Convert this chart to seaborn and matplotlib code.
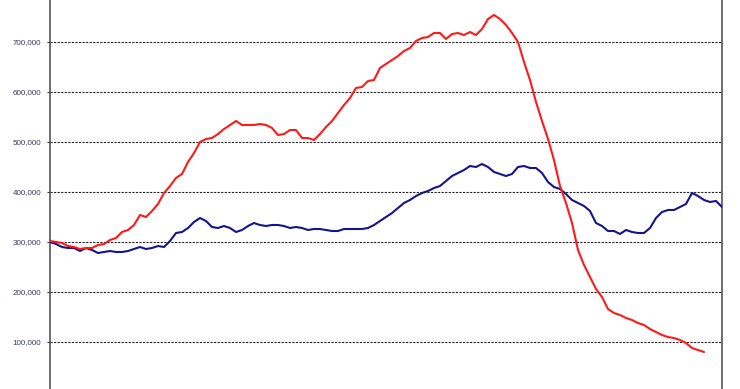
import matplotlib
matplotlib.use("Agg")
import matplotlib.pyplot as plt
import matplotlib.ticker as mticker
import numpy as np
import pandas as pd
import seaborn as sns

# Values in thousands, one per period
red_values = [302, 300, 298, 292, 290, 286, 288, 288, 294, 296,
              304, 308, 320, 324, 334, 354, 350, 362, 376, 398,
              412, 428, 436, 460, 478, 500, 506, 508, 516, 526,
              534, 542, 534, 534, 534, 536, 534, 528, 514, 516,
              524, 524, 508, 508, 504, 516, 530, 542, 558, 574,
              588, 608, 610, 622, 624, 648, 656, 664, 672, 682,
              688, 702, 708, 710, 718, 718, 706, 716, 718, 714,
              720, 714, 726, 746, 754, 746, 734, 718, 700, 660,
              624, 580, 542, 506, 464, 412, 378, 338, 284, 254,
              230, 206, 190, 166, 158, 154, 148, 144, 138, 134,
              126, 120, 114, 110, 108, 104, 98, 88, 84, 80]

blue_values = [300, 296, 290, 288, 288, 282, 288, 284, 278, 280,
               282, 280, 280, 282, 286, 290, 286, 288, 292, 290,
               302, 318, 320, 328, 340, 348, 342, 330, 328, 332,
               328, 320, 324, 332, 338, 334, 332, 334, 334, 332,
               328, 330, 328, 324, 326, 326, 324, 322, 322, 326,
               326, 326, 326, 328, 334, 342, 350, 358, 368, 378,
               384, 392, 398, 402, 408, 412, 422, 432, 438, 444,
               452, 450, 456, 450, 440, 436, 432, 436, 450, 452,
               448, 448, 438, 420, 410, 406, 396, 384, 378, 372,
               362, 338, 332, 322, 322, 316, 324, 320, 318, 318,
               328, 348, 360, 364, 364, 370, 376, 398, 392, 384,
               380, 382, 370]

y_ticks = [100000, 200000, 300000, 400000, 500000, 600000, 700000]

red_df = pd.DataFrame({"period": np.arange(len(red_values)),
                       "value": np.array(red_values) * 1000})
blue_df = pd.DataFrame({"period": np.arange(len(blue_values)),
                        "value": np.array(blue_values) * 1000})

sns.set_style("white")
plt.rcParams["font.family"] = ["Liberation Sans", "DejaVu Sans"]

fig = plt.figure(figsize=(7.4, 3.89), dpi=100)
ax = fig.add_axes([50 / 740, -3 / 389, 672 / 740, 400 / 389])

sns.lineplot(data=blue_df, x="period", y="value", ax=ax, color="#14148c",
             linewidth=1.5, zorder=3)
sns.lineplot(data=red_df, x="period", y="value", ax=ax, color="#ff1a1a",
             linewidth=1.5, zorder=4)

ax.set_xlim(0, len(blue_values) - 1)
ax.set_ylim(0, 800000)
ax.set_yticks(y_ticks)
ax.yaxis.set_major_formatter(mticker.FuncFormatter(lambda v, p: f"{int(v):,}"))
ax.set_xticks([])
ax.set_xlabel("")
ax.set_ylabel("")
ax.grid(axis="y", color="#222222", linestyle=(0, (2, 1.2)), linewidth=0.8)
ax.tick_params(axis="y", length=2.5, width=0.8, color="#333333", pad=4,
               labelsize=5.8, labelcolor="#3a3a5e", left=True)
for side in ["left", "right"]:
    ax.spines[side].set_color("#555555")
    ax.spines[side].set_linewidth(1.2)
for side in ["top", "bottom"]:
    ax.spines[side].set_visible(False)

fig.savefig("out.png", dpi=100)
